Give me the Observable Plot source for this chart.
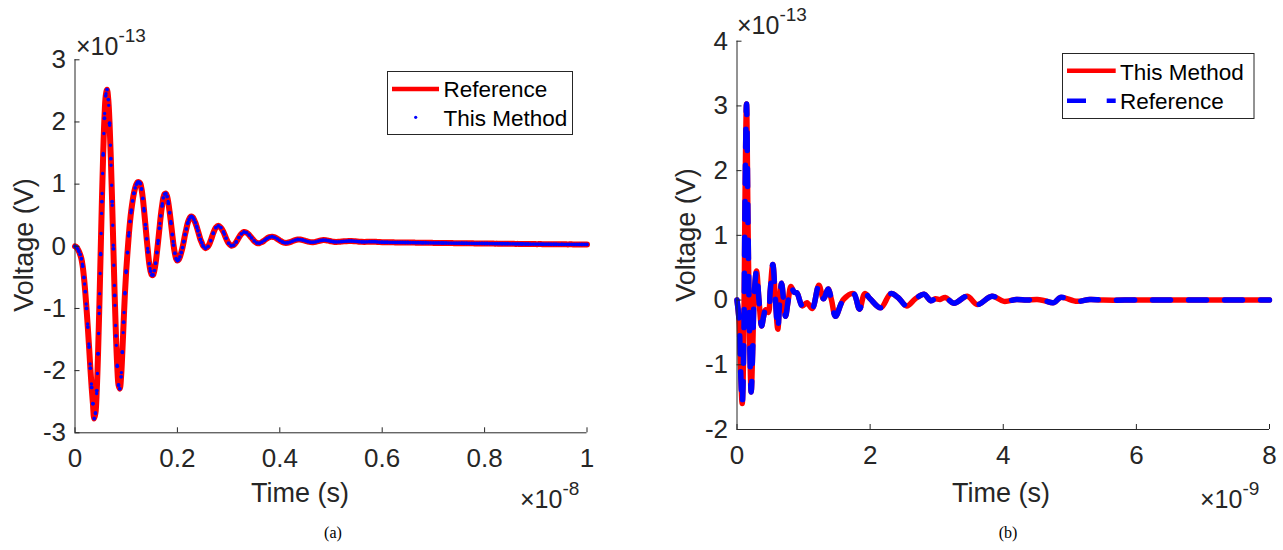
<!DOCTYPE html>
<html>
<head>
<meta charset="utf-8">
<script src="https://cdn.jsdelivr.net/npm/d3@7"></script>
<script src="https://cdn.jsdelivr.net/npm/@observablehq/plot@0.6"></script>
<style>
  html, body { margin: 0; padding: 0; background: #fff; }
  #figure { position: relative; width: 1283px; height: 550px; overflow: hidden; }
  #figure > svg { position: absolute; top: 0; }
</style>
</head>
<body>
<div id="figure"></div>
<script>
// ---------------------------------------------------------------------------
// Panel (a): transient voltage, time in units of 1e-8 s, voltage in 1e-13 V.
// Both solutions coincide, so the two series share the same samples.
// ---------------------------------------------------------------------------
const fineStartA = 0, fineStepA = 0.0025;      // 0 … 0.2475
const voltageFineA = [
   0, -0.01, -0.04, -0.08, -0.13, -0.20, -0.32, -0.50, -0.73, -1.00,
  -1.30, -1.62, -1.96, -2.27, -2.53, -2.77, -2.68, -2.32, -1.73, -0.98,
  -0.13, 0.72, 1.47, 2.06, 2.42, 2.52, 2.36, 1.98, 1.41, 0.72,
  -0.04, -0.79, -1.44, -1.93, -2.23, -2.29, -2.10, -1.70, -1.22, -0.76,
  -0.40, -0.10, 0.17, 0.40, 0.58, 0.73, 0.85, 0.94, 1.00, 1.03,
   1.03, 1.01, 0.92, 0.77, 0.57, 0.35, 0.12, -0.09, -0.28, -0.40,
  -0.46, -0.46, -0.39, -0.27, -0.10, 0.09, 0.29, 0.49, 0.65, 0.78,
   0.84, 0.85, 0.80, 0.69, 0.54, 0.37, 0.19, 0.02, -0.11, -0.20,
  -0.23, -0.215, -0.17, -0.10, -0.02, 0.08, 0.19, 0.28, 0.37, 0.43,
   0.47, 0.48, 0.466, 0.43, 0.38, 0.32, 0.25, 0.18, 0.11, 0.06
];
const coarseStartA = 0.25, coarseStepA = 0.005; // 0.25 … 1.0
const voltageCoarseA = [
  0.01, -0.03, 0.00, 0.09, 0.21, 0.30, 0.33, 0.30, 0.23, 0.13,
  0.05, 0.01, 0.02, 0.07, 0.14, 0.20, 0.23, 0.22, 0.185, 0.135,
  0.086, 0.055, 0.05, 0.068, 0.096, 0.127, 0.149, 0.155, 0.144, 0.12,
  0.094, 0.07, 0.056, 0.057, 0.068, 0.084, 0.10, 0.109, 0.108, 0.10,
  0.088, 0.075, 0.067, 0.066, 0.072, 0.084, 0.094, 0.10, 0.098, 0.091,
  0.081, 0.073, 0.07, 0.072, 0.076, 0.08, 0.083, 0.085, 0.085, 0.083,
  0.079, 0.075, 0.072, 0.071, 0.072, 0.074, 0.075, 0.074, 0.071, 0.068,
  0.066, 0.065, 0.065, 0.064, 0.064, 0.063, 0.063, 0.062, 0.062, 0.061,
  0.061, 0.060, 0.060, 0.059, 0.058, 0.058, 0.057, 0.057, 0.056, 0.056,
  0.055, 0.055, 0.054, 0.054, 0.053, 0.053, 0.052, 0.052, 0.051, 0.051,
  0.050, 0.050, 0.049, 0.049, 0.048, 0.048, 0.047, 0.047, 0.046, 0.046,
  0.045, 0.045, 0.044, 0.044, 0.043, 0.043, 0.042, 0.042, 0.041, 0.041,
  0.040, 0.040, 0.039, 0.039, 0.038, 0.038, 0.037, 0.037, 0.036, 0.036,
  0.035, 0.035, 0.035, 0.034, 0.034, 0.034, 0.033, 0.033, 0.033, 0.032,
  0.032, 0.032, 0.031, 0.031, 0.031, 0.030, 0.030, 0.030, 0.030, 0.030,
  0.030
];
const xTicksA = [0, 0.2, 0.4, 0.6, 0.8, 1];
const yTicksA = [-3, -2, -1, 0, 1, 2, 3];
const legendA = ["Reference", "This Method"];

// ---------------------------------------------------------------------------
// Panel (b): time in units of 1e-9 s, voltage in 1e-13 V.
// ---------------------------------------------------------------------------
const timeB = [
  0, 0.03, 0.055, 0.078, 0.10, 0.12, 0.143, 0.165, 0.19, 0.213,
  0.235, 0.26, 0.293, 0.33, 0.37, 0.40, 0.43, 0.47, 0.50, 0.538,
  0.575, 0.613, 0.64, 0.669, 0.70, 0.729, 0.77, 0.81, 0.86, 0.90,
  0.98, 1.05, 1.13, 1.23, 1.30, 1.37, 1.42, 1.48, 1.60, 1.75,
  1.84, 1.92, 2.0, 2.16, 2.31, 2.42, 2.55, 2.68, 2.81, 2.91,
  2.98, 3.05, 3.13, 3.26, 3.46, 3.61, 3.83, 4.01, 4.2, 4.35,
  4.51, 4.62, 4.76, 4.86, 5.11, 5.3, 5.5, 6.0, 6.5, 7.0,
  7.5, 8.0
];
const voltageB = [
  0, -0.3, -1.1, -1.6, -0.8, 1.5, 3.03, 1.2, -0.6, -1.42,
  -0.8, 0.1, 0.45, 0.0, -0.40, -0.25, -0.15, -0.19, 0.15, 0.55,
  0.05, -0.45, -0.05, 0.26, 0.0, -0.25, 0.0, 0.21, 0.12, 0.11,
  -0.09, -0.04, -0.13, 0.23, 0.02, 0.17, 0.0, -0.25, 0.01, 0.10,
  -0.14, 0.10, 0.02, -0.12, 0.10, 0.04, -0.09, 0.02, 0.09, -0.01,
  0.02, 0.01, 0.04, -0.05, 0.06, -0.07, 0.06, -0.02, 0.01, 0.0,
  0.01, -0.01, -0.04, 0.04, -0.02, 0.01, 0.0, 0.0, 0.0, 0.0,
  0.0, 0.0
];
const xTicksB = [0, 2, 4, 6, 8];
const yTicksB = [-2, -1, 0, 1, 2, 3, 4];
const legendB = ["This Method", "Reference"];

// ---------------------------------------------------------------------------
const FONT = '"Liberation Sans", Arial, Helvetica, sans-serif';
const INK = "#262626";
const RED = "#ff0000";
const BLUE = "#0000ff";

const seriesA = [
  ...voltageFineA.map((v, i) => ({t: fineStartA + i * fineStepA, v})),
  ...voltageCoarseA.map((v, i) => ({t: coarseStartA + i * coarseStepA, v}))
];
const seriesB = timeB.map((t, i) => ({t, v: voltageB[i]}));

// MATLAB-style axes: left and bottom lines only, ticks pointing inward.
function panel({width, height, margin, xDomain, yDomain, xTicks, yTicks, marks}) {
  const fw = width - margin.left - margin.right;
  const fh = height - margin.top - margin.bottom;
  return Plot.plot({
    width, height,
    marginLeft: margin.left, marginRight: margin.right,
    marginTop: margin.top, marginBottom: margin.bottom,
    style: {fontFamily: FONT, fontSize: "26px", color: INK, background: "transparent", overflow: "visible"},
    x: {domain: xDomain},
    y: {domain: yDomain},
    marks: [
      ...marks,
      Plot.ruleY([yDomain[0]], {stroke: INK, strokeWidth: 1}),
      Plot.ruleX([xDomain[0]], {stroke: INK, strokeWidth: 1}),
      Plot.ruleX(xTicks, {stroke: INK, insetTop: fh - 5}),
      Plot.ruleY(yTicks, {stroke: INK, insetRight: fw - 5}),
      Plot.axisX({ticks: xTicks, tickSize: 0, tickPadding: 16, tickFormat: d => String(d), label: null, fontSize: 26, fill: INK}),
      Plot.axisY({ticks: yTicks, tickSize: 0, tickPadding: 9, tickFormat: d => String(d), label: null, fontSize: 26, fill: INK})
    ]
  });
}

const figure = document.getElementById("figure");

const plotA = panel({
  width: 650, height: 480,
  margin: {left: 74.5, right: 63.5, top: 59.3, bottom: 47.7},
  xDomain: [0, 1], yDomain: [-3, 3],
  xTicks: xTicksA, yTicks: yTicksA,
  marks: [
    Plot.line(seriesA, {x: "t", y: "v", stroke: RED, strokeWidth: 6, curve: "catmull-rom"}),
    Plot.line(seriesA, {x: "t", y: "v", stroke: BLUE, strokeWidth: 3.4, strokeDasharray: "0 20",
                        strokeLinecap: "round", curve: "catmull-rom"}),
    Plot.dot(seriesA, {x: "t", y: "v", r: 1.9, fill: BLUE, stroke: null})
  ]
});
plotA.style.left = "0px";
figure.appendChild(plotA);

const plotB = panel({
  width: 633, height: 480,
  margin: {left: 86.5, right: 14, top: 40.7, bottom: 51},
  xDomain: [0, 8], yDomain: [-2, 4],
  xTicks: xTicksB, yTicks: yTicksB,
  marks: [
    Plot.line(seriesB, {x: "t", y: "v", stroke: RED, strokeWidth: 5.5, curve: "catmull-rom"}),
    Plot.line(seriesB, {x: "t", y: "v", stroke: BLUE, strokeWidth: 5.5, strokeDasharray: "18 18",
                        curve: "catmull-rom"})
  ]
});
plotB.style.left = "650px";
figure.appendChild(plotB);

// Overlay: axis titles, exponent labels, legends and captions.
const over = d3.select(figure).append("svg")
  .attr("width", 1283).attr("height", 550)
  .style("left", "0px").style("pointer-events", "none")
  .attr("font-family", FONT);

function exponent(x, y, exp) {
  const t = over.append("text").attr("x", x).attr("y", y).attr("font-size", 25).attr("fill", INK);
  t.append("tspan").text("\u00d710");
  t.append("tspan").attr("dy", -13).attr("font-size", 19).text(exp);
}
exponent(76, 55, "-13");
exponent(737, 34, "-13");
exponent(520, 508, "-8");
exponent(1200, 508, "-9");

function xTitle(cx, y, s) {
  over.append("text").attr("x", cx).attr("y", y).attr("text-anchor", "middle")
    .attr("font-size", 27).attr("fill", INK).text(s);
}
function yTitle(x, cy, s) {
  over.append("text").attr("transform", `translate(${x},${cy}) rotate(-90)`)
    .attr("text-anchor", "middle").attr("font-size", 27).attr("fill", INK).text(s);
}
xTitle(300, 502, "Time (s)");
xTitle(1001, 502, "Time (s)");
yTitle(33, 245, "Voltage (V)");
yTitle(695, 235, "Voltage (V)");

function legendBox(x, y, w, h) {
  over.append("rect").attr("x", x).attr("y", y).attr("width", w).attr("height", h)
    .attr("fill", "#fff").attr("stroke", INK).attr("stroke-width", 1);
}
function legendText(x, y, s) {
  over.append("text").attr("x", x).attr("y", y).attr("font-size", 22.5).attr("fill", "#000").text(s);
}
// (a)
legendBox(387.5, 71.5, 185, 63);
over.append("line").attr("x1", 392).attr("x2", 439).attr("y1", 89).attr("y2", 89)
  .attr("stroke", RED).attr("stroke-width", 4.5);
over.append("circle").attr("cx", 415.7).attr("cy", 117.3).attr("r", 1.6).attr("fill", BLUE);
legendText(443.5, 96.9, legendA[0]);
legendText(443.5, 125.9, legendA[1]);
// (b)
legendBox(1062.5, 53.5, 191.5, 65);
over.append("line").attr("x1", 1067).attr("x2", 1115.7).attr("y1", 70.7).attr("y2", 70.7)
  .attr("stroke", RED).attr("stroke-width", 4.5);
over.append("line").attr("x1", 1067).attr("x2", 1115.7).attr("y1", 100.7).attr("y2", 100.7)
  .attr("stroke", BLUE).attr("stroke-width", 4.5).attr("stroke-dasharray", "19 20.7");
legendText(1120, 79.5, legendB[0]);
legendText(1120, 108.5, legendB[1]);

// Captions
over.append("text").attr("x", 333).attr("y", 538).attr("text-anchor", "middle")
  .attr("font-family", '"Liberation Serif", "Times New Roman", serif').attr("font-size", 16).attr("fill", "#000").text("(a)");
over.append("text").attr("x", 1008).attr("y", 538).attr("text-anchor", "middle")
  .attr("font-family", '"Liberation Serif", "Times New Roman", serif').attr("font-size", 16).attr("fill", "#000").text("(b)");
</script>
</body>
</html>
